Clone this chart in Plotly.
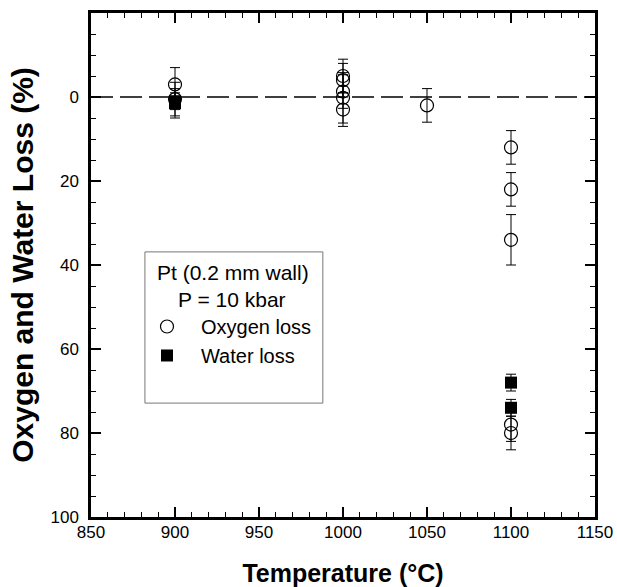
import plotly.graph_objects as go

# ---- data ----
oxy_temp = [900, 900, 1000, 1000, 1000, 1000, 1000, 1050, 1100, 1100, 1100, 1100, 1100]
oxy_loss = [-3, 0.5, -5, -4, -1.3, 0.2, 3, 2, 12, 22, 34, 78, 80]
oxy_err = [4, 4, 4, 4, 4, 6, 4, 4, 4, 4, 6, 4, 4]

water_temp = [900, 900, 1100, 1100]
water_loss = [1, 1.5, 68, 74]
water_err = [2, 3.5, 2, 2]

x_ticks = [850, 900, 950, 1000, 1050, 1100, 1150]
y_ticks = [-20, 0, 20, 40, 60, 80, 100]
y_ticktext = ["", "0", "20", "40", "60", "80", "100"]

FONT = "Liberation Sans, Arial, sans-serif"

fig = go.Figure()
fig.add_trace(go.Scatter(
    x=oxy_temp, y=oxy_loss, mode="markers", name="Oxygen loss",
    marker=dict(symbol="circle-open", size=13, color="black", line=dict(width=1.2, color="black")),
    error_y=dict(type="data", array=oxy_err, visible=True, color="black", thickness=1, width=5),
))
fig.add_trace(go.Scatter(
    x=water_temp, y=water_loss, mode="markers", name="Water loss",
    marker=dict(symbol="square", size=12, color="black", line=dict(width=0)),
    error_y=dict(type="data", array=water_err, visible=True, color="black", thickness=1, width=5),
))

# zero line
fig.add_shape(type="line", xref="paper", x0=0, x1=1, yref="y", y0=0, y1=0,
              line=dict(color="black", width=1.4, dash="22px,7px"), layer="below")

# legend box
fig.add_shape(type="rect", xref="paper", yref="paper", x0=0.107, x1=0.460, y0=0.226, y1=0.526,
              line=dict(color="#777777", width=1), fillcolor="rgba(0,0,0,0)")
fig.add_annotation(text="Pt (0.2 mm wall)", xref="paper", yref="paper", x=0.2817, y=0.486,
                   xanchor="center", yanchor="middle",
                   showarrow=False, font=dict(family=FONT, size=21, color="black"))
fig.add_annotation(text="P = 10 kbar", xref="paper", yref="paper", x=0.2800, y=0.4306,
                   xanchor="center", yanchor="middle",
                   showarrow=False, font=dict(family=FONT, size=21, color="black"))

fig.update_layout(
    width=617, height=587, autosize=False,
    margin=dict(l=91, r=22, t=13, b=70),
    paper_bgcolor="white", plot_bgcolor="white",
    font=dict(family=FONT, size=17, color="black"),
    showlegend=True,
    legend=dict(x=0.0833, y=0.4167, xanchor="left", yanchor="top",
                bgcolor="rgba(0,0,0,0)", borderwidth=0, itemwidth=58,
                font=dict(family=FONT, size=20, color="black")),
    xaxis=dict(
        range=[850, 1150], tickvals=x_ticks, showgrid=False, zeroline=False,
        showline=True, linecolor="black", linewidth=2.5, mirror="ticks",
        ticks="inside", ticklen=10, tickwidth=1.5, tickcolor="black",
        minor=dict(dtick=10, ticks="inside", ticklen=5, tickwidth=1, tickcolor="black"),
        title=dict(text="<b>Temperature (°C)</b>", font=dict(family=FONT, size=25, color="black"),
                   standoff=26),
        tickfont=dict(family=FONT, size=17, color="black"),
        ticklabelstandoff=-2,
        automargin=False,
    ),
    yaxis=dict(
        range=[100, -20], autorange=False, tickvals=y_ticks, ticktext=y_ticktext,
        showgrid=False, zeroline=False,
        showline=True, linecolor="black", linewidth=2.5, mirror="ticks",
        ticks="inside", ticklen=10, tickwidth=1.5, tickcolor="black",
        minor=dict(dtick=5, ticks="inside", ticklen=5, tickwidth=1, tickcolor="black"),
        title=dict(text="<b>Oxygen and Water Loss (%)</b>", font=dict(family=FONT, size=30, color="black"),
                   standoff=8),
        tickfont=dict(family=FONT, size=17, color="black"),
        ticklabelstandoff=6,
        automargin=False,
    ),
)

# remove the browser's default 8px body margin so the figure fills the window exactly
fig.write_html("out.html", config={"displayModeBar": False},
               post_script="document.body.style.margin='0px';document.body.style.overflow='hidden';")
